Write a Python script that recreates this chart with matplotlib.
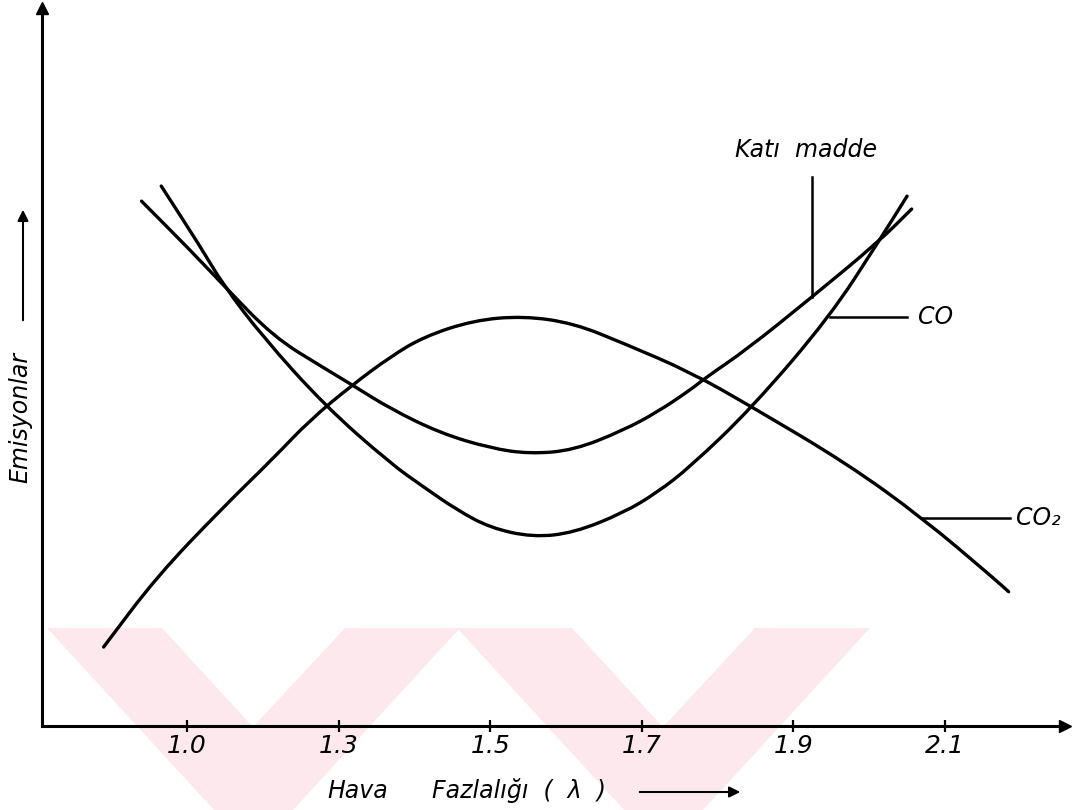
import numpy as np
import matplotlib.pyplot as plt
from matplotlib.patches import Polygon, PathPatch
from matplotlib.path import Path

# x ticks are drawn equally spaced on the original, labels as printed
tick_labels = ['1.0', '1.3', '1.5', '1.7', '1.9', '2.1']
tick_pos = np.arange(len(tick_labels))

# curves (x in tick units, y in arbitrary emission units 0-100)
co2_x = [-0.55, -0.20, 0.24, 0.57, 0.81, 1.09, 1.34, 1.56, 1.89, 2.22, 2.55, 2.88, 3.32, 3.73, 4.35, 4.85, 5.32, 5.42]
co2_y = [11.0, 20.8, 30.5, 37.3, 42.6, 47.5, 51.4, 54.2, 56.5, 57.1, 56.1, 53.3, 49.3, 44.4, 36.6, 29.0, 20.6, 18.7]

kati_x = [-0.30, 0.02, 0.24, 0.57, 0.90, 1.09, 1.34, 1.67, 2.00, 2.26, 2.55, 2.88, 3.10, 3.32, 3.42, 3.69, 4.12, 4.56, 4.78]
kati_y = [73.1, 66.3, 61.4, 54.2, 49.9, 47.5, 44.2, 40.8, 38.7, 37.9, 38.4, 41.2, 43.7, 46.8, 48.5, 52.4, 59.7, 67.4, 72.0]

co_x = [-0.17, 0.09, 0.24, 0.50, 0.91, 1.34, 1.56, 1.78, 2.00, 2.28, 2.55, 2.88, 3.10, 3.32, 3.73, 4.24, 4.56, 4.75]
co_y = [75.2, 66.7, 61.4, 54.2, 44.6, 36.6, 33.3, 30.1, 27.6, 26.3, 26.9, 29.7, 32.5, 36.1, 44.4, 57.0, 67.4, 73.8]

label_kati = 'Katı  madde'
label_co = 'CO'
label_co2 = 'CO₂'

narrow = ['Liberation Sans Narrow', 'DejaVu Sans']
wide = ['DejaVu Sans']


def smooth_path(xs, ys):
    # quadratic bezier through the midpoints, so the pen line looks smooth
    pts = np.column_stack([xs, ys])
    verts = [pts[0], (pts[0] + pts[1]) / 2]
    codes = [Path.MOVETO, Path.LINETO]
    for i in range(1, len(pts) - 1):
        verts += [pts[i], (pts[i] + pts[i + 1]) / 2]
        codes += [Path.CURVE3, Path.CURVE3]
    verts.append(pts[-1])
    codes.append(Path.LINETO)
    return Path(verts, codes)


fig = plt.figure(figsize=(10.84, 8.10), dpi=100)

# faint pink watermark of the scanned page (figure pixels)
bg = fig.add_axes([0, 0, 1, 1])
bg.set_xlim(0, 1084)
bg.set_ylim(810, 0)
bg.axis('off')
wm = [
    [(47, 628), (162, 628), (253, 727), (345, 628), (460, 628), (293, 810), (214, 810)],
    [(457, 628), (572, 628), (663, 727), (755, 628), (870, 628), (703, 810), (624, 810)],
]
for p in wm:
    bg.add_patch(Polygon(p, closed=True, fc='#fde9ed', ec='none'))

ax = fig.add_axes([42 / 1084, 84 / 810, 1023 / 1084, 718 / 810])
ax.patch.set_alpha(0)
ax.set_xlim(-0.9565, 5.7916)
ax.set_ylim(0, 100)

for s in ['top', 'right']:
    ax.spines[s].set_visible(False)
for s in ['left', 'bottom']:
    ax.spines[s].set_linewidth(2.2)

ax.set_yticks([])
ax.set_xticks(tick_pos)
ax.set_xticklabels(tick_labels, fontstyle='italic', fontsize=18, family=narrow)
ax.tick_params(axis='x', direction='inout', length=9, width=1.6, pad=1)

# axis arrowheads
ax.plot(1, 0, '>', color='k', ms=9, transform=ax.transAxes, clip_on=False)
ax.plot(0, 1, '^', color='k', ms=9, transform=ax.transAxes, clip_on=False)

lw = 2.4
for xs, ys in [(co2_x, co2_y), (kati_x, kati_y), (co_x, co_y)]:
    ax.add_patch(PathPatch(smooth_path(xs, ys), fc='none', ec='k', lw=lw,
                           capstyle='round', joinstyle='round'))

# leader lines and curve names
k = 16
ax.plot([kati_x[k], kati_x[k]], [kati_y[k], 76.5], color='k', lw=1.8)
ax.text(4.08, 80.2, label_kati, fontsize=17, fontstyle='italic', family=wide,
        ha='center', va='center')

c = 15
ax.plot([co_x[c], 4.75], [co_y[c], co_y[c]], color='k', lw=1.8)
ax.text(4.82, co_y[c], label_co, fontsize=17, fontstyle='italic', family=wide,
        ha='left', va='center')

d = 15
ax.plot([co2_x[d], 5.43], [co2_y[d], co2_y[d]], color='k', lw=1.8)
ax.text(5.47, co2_y[d], label_co2, fontsize=17, fontstyle='italic', family=wide,
        ha='left', va='center')

# axis titles with their arrows
fig.text(327 / 1084, 12 / 810, 'Hava', fontsize=17, fontstyle='italic',
         family=wide, ha='left', va='baseline')
fig.text(432 / 1084, 12 / 810, 'Fazlalığı  (  λ  )', fontsize=17, fontstyle='italic',
         family=wide, ha='left', va='baseline')
ax.annotate('', xy=(743, 18), xytext=(637, 18), xycoords='figure pixels',
            arrowprops=dict(arrowstyle='-|>', lw=1.5, color='k', mutation_scale=16))

fig.text(20 / 1084, 393 / 810, 'Emisyonlar', fontsize=17, fontstyle='italic',
         family=wide, rotation=90, ha='center', va='center')
ax.annotate('', xy=(23, 603), xytext=(23, 487), xycoords='figure pixels',
            arrowprops=dict(arrowstyle='-|>', lw=1.5, color='k', mutation_scale=16))

fig.savefig('out.png', dpi=100)
